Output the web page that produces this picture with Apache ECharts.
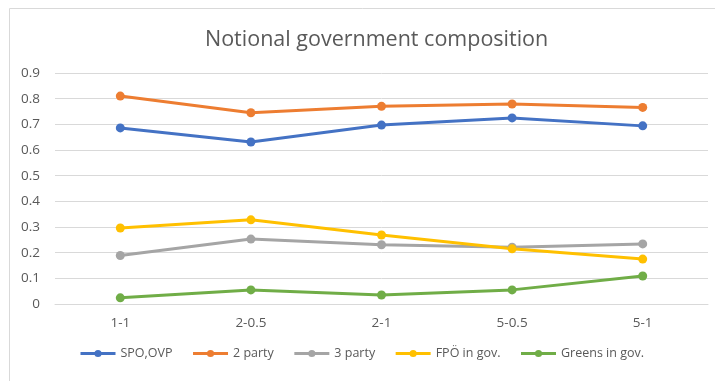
<!DOCTYPE html>
<html><head><meta charset="utf-8">
<script src="https://cdn.jsdelivr.net/npm/echarts@6/dist/echarts.min.js"></script>
<style>html,body{margin:0;padding:0;background:#fff}#c{width:715px;height:381px}</style>
</head><body><div id="c"></div>
<script>
const categories = ["1-1", "2-0.5", "2-1", "5-0.5", "5-1"];
const spoOvp = [0.686, 0.631, 0.697, 0.725, 0.694];
const twoParty = [0.810, 0.745, 0.770, 0.779, 0.766];
const threeParty = [0.189, 0.253, 0.231, 0.221, 0.234];
const fpoInGov = [0.296, 0.328, 0.269, 0.215, 0.175];
const greensInGov = [0.024, 0.055, 0.035, 0.055, 0.109];
const yTicks = [0, 0.1, 0.2, 0.3, 0.4, 0.5, 0.6, 0.7, 0.8, 0.9];

const font = '"Open Sans", "Noto Sans", sans-serif';
const names = ["SPO,OVP", "2 party", "3 party", "FPÖ in gov.", "Greens in gov."];
const data = [spoOvp, twoParty, threeParty, fpoInGov, greensInGov];
const colors = ["#4472C4", "#ED7D31", "#A5A5A5", "#FFC000", "#70AD47"];

const chart = echarts.init(document.getElementById('c'), null, {renderer: 'canvas'});
chart.setOption({
  animation: false,
  color: colors,
  graphic: [{type: 'rect', shape: {x: 9.5, y: 8.5, width: 720, height: 400},
    style: {fill: 'none', stroke: '#d9d9d9', lineWidth: 1}, silent: true}],
  title: {text: 'Notional government composition', left: 200, top: 24,
    textStyle: {fontFamily: font, fontSize: 21.5, fontWeight: 'normal', color: '#595959'}},
  grid: {left: 55, right: 7, top: 73, bottom: 77, containLabel: false},
  legend: {bottom: 16, left: 74, itemWidth: 35, itemHeight: 9, itemGap: 19,
    lineStyle: {width: 3},
    textStyle: {fontFamily: font, fontSize: 12.5, color: '#595959'},
    data: names},
  xAxis: {type: 'category', data: categories, boundaryGap: true,
    axisLine: {lineStyle: {color: '#d9d9d9'}}, axisTick: {show: false},
    axisLabel: {fontFamily: font, fontSize: 13.5, color: '#595959', margin: 12}},
  yAxis: {type: 'value', min: 0, max: 0.9, interval: 0.1,
    axisLine: {show: false}, axisTick: {show: false},
    splitLine: {lineStyle: {color: '#d9d9d9'}},
    axisLabel: {fontFamily: font, fontSize: 13.5, color: '#595959', margin: 15,
      formatter: v => { const t = yTicks.find(x => Math.abs(x - v) < 1e-6); return t === undefined ? '' : String(t); }}},
  series: names.map((n, i) => ({
    name: n, type: 'line', data: data[i], symbol: 'circle', symbolSize: 9,
    lineStyle: {width: 3}, itemStyle: {color: colors[i]}
  }))
});
</script></body></html>
